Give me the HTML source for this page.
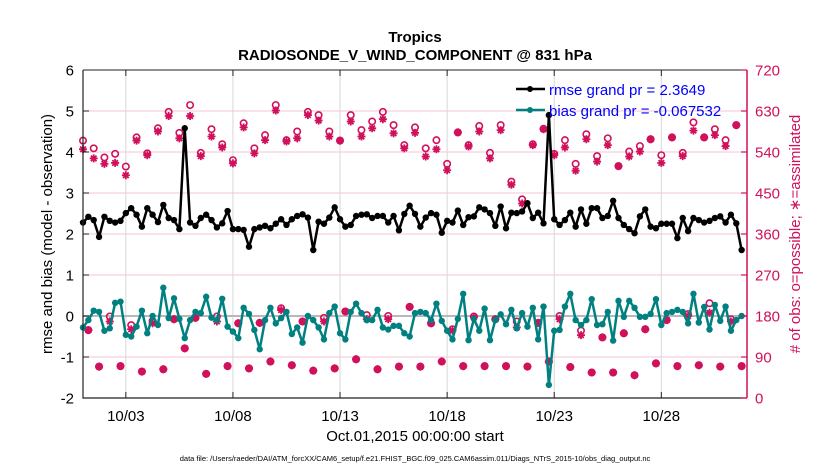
<!DOCTYPE html>
<html><head><meta charset="utf-8"><style>
html,body{margin:0;padding:0;background:#fff;}
svg{display:block;font-family:"Liberation Sans",Arial,sans-serif;}
</style></head><body>
<svg id="chart" width="830" height="470" viewBox="0 0 830 470">
<text x="415" y="42" text-anchor="middle" font-size="15" font-weight="bold">Tropics</text>
<text x="415" y="60" text-anchor="middle" font-size="15" font-weight="bold">RADIOSONDE_V_WIND_COMPONENT @ 831 hPa</text>
<g id="grid"></g>
<g id="marks"></g>
<g id="axes"></g>
<text transform="translate(52,234) rotate(-90)" text-anchor="middle" font-size="15">rmse and bias (model - observation)</text>
<text transform="translate(800,234) rotate(-90)" text-anchor="middle" font-size="15" fill="#d0105a"># of obs: o=possible; ∗=assimilated</text>
<text x="415" y="441" text-anchor="middle" font-size="15">Oct.01,2015 00:00:00 start</text>
<text x="415" y="461" text-anchor="middle" font-size="7.5">data file: /Users/raeder/DAI/ATM_forcXX/CAM6_setup/f.e21.FHIST_BGC.f09_025.CAM6assim.011/Diags_NTrS_2015-10/obs_diag_output.nc</text>
<g>
<line x1="516" y1="89" x2="545" y2="89" stroke="#000" stroke-width="2.5"/><circle cx="530" cy="89" r="3" fill="#000"/>
<text x="549" y="95" font-size="15" fill="#0000ff">rmse grand pr = 2.3649</text>
<line x1="516" y1="110" x2="545" y2="110" stroke="#008080" stroke-width="2.5"/><circle cx="530" cy="110" r="3" fill="#008080"/>
<text x="549" y="116" font-size="15" fill="#0000ff">bias grand pr = -0.067532</text>
</g>
</svg>
<script>
const rmse=[2.28,2.42,2.34,1.93,2.42,2.32,2.28,2.32,2.51,2.63,2.47,2.18,2.63,2.47,2.29,2.71,2.39,2.34,2.12,4.58,2.28,2.2,2.39,2.47,2.34,2.16,2.26,2.56,2.12,2.12,2.1,1.69,
2.12,2.16,2.2,2.14,2.25,2.36,2.22,2.36,2.44,2.48,2.4,1.61,2.3,2.25,2.4,2.65,2.36,2.18,2.22,2.44,2.47,2.48,2.39,2.44,2.44,2.28,2.44,2.09,2.49,2.69,2.49,
2.18,2.4,2.51,2.47,2.03,2.32,2.28,2.57,2.22,2.41,2.43,2.65,2.6,2.51,2.2,2.67,2.14,2.52,2.51,2.55,2.75,2.39,2.52,2.26,4.9,2.36,2.22,2.34,2.52,2.18,2.6,2.25,
2.63,2.63,2.39,2.44,2.81,2.39,2.22,2.12,2.02,2.43,2.6,2.18,2.14,2.25,2.25,2.25,1.9,2.39,2.07,2.39,2.34,2.28,2.32,2.39,2.43,2.28,2.47,2.26,1.61];
const bias=[-0.28,-0.1,0.13,0.1,-0.36,-0.3,0.32,0.35,-0.46,-0.5,-0.26,0.13,-0.42,0.0,-0.22,0.69,-0.05,0.43,-0.07,-0.54,-0.1,0.1,0.07,0.47,-0.04,-0.1,0.42,-0.26,-0.38,-0.54,0.2,0.05,
-0.34,-0.81,-0.1,0.2,-0.18,-0.05,0.1,-0.44,-0.28,-0.65,0.0,-0.1,-0.28,-0.57,0.07,0.23,-0.42,-0.57,0.1,0.3,0.07,-0.1,-0.1,0.15,-0.28,-0.33,-0.24,-0.24,-0.42,-0.5,0.07,
0.1,0.07,-0.1,0.3,-0.12,-0.36,-0.57,-0.07,0.54,-0.59,-0.07,-0.36,0.18,-0.59,-0.1,0.04,-0.2,0.15,-0.3,0.07,-0.26,0.2,-0.57,0.23,-1.68,-0.36,-0.34,0.23,0.54,-0.1,-0.22,-0.1,
0.41,-0.22,-0.2,0.1,-0.6,0.37,-0.02,0.37,0.2,-0.02,-0.02,0.05,0.41,-0.22,0.07,0.1,0.15,0.1,-0.18,0.54,-0.16,0.22,-0.33,0.27,-0.12,0.23,-0.36,-0.1,0.0];
const nUsed=[546,149,526,69,514,168,516,70,489,151,565,58,533,164,585,63,619,173,570,109,619,176,531,53,574,168,550,70,515,164,594,65,
537,165,566,80,631,193,563,72,570,168,621,60,609,168,574,65,565,190,607,85,574,173,592,63,612,173,581,69,548,200,582,69,
530,164,546,80,500,148,583,70,552,177,585,70,526,173,588,70,468,155,427,69,555,165,590,80,533,173,550,68,499,138,568,56,
519,133,555,56,509,142,530,50,541,151,568,76,516,171,572,70,531,180,587,72,572,187,577,69,553,168,599,70];
const nPoss=[565,149,548,69,528,179,536,70,508,160,572,58,537,169,592,63,628,173,582,109,643,176,538,53,590,179,557,70,522,164,603,65,
548,165,577,80,643,197,566,72,585,168,628,60,621,176,585,65,565,190,621,85,588,182,607,63,628,180,599,69,555,200,594,69,
548,164,566,80,514,151,583,70,555,179,597,70,538,173,599,70,475,168,436,69,557,165,591,80,536,180,566,68,514,148,579,56,
531,133,570,56,509,142,541,50,553,151,568,76,533,171,572,70,538,184,605,72,572,208,590,69,566,173,599,70];
const xTickDays=[2,7,12,17,22,27];
const xTickLabels=['10/03','10/08','10/13','10/18','10/23','10/28'];
const yTicks=[-2,-1,0,1,2,3,4,5,6];
const y2Ticks=[0,90,180,270,360,450,540,630,720];
const stepDays=0.25;

const L=83,R=747,T=70,B=398;
const X0=0,X1=31;
const xs=d=>L+(d-X0)/(X1-X0)*(R-L);
const ys=v=>B-(v+2)/8*(B-T);
const y2s=c=>B-c/720*(B-T);
const NS='http://www.w3.org/2000/svg';
const CR='#d0105a';
function mk(tag,attrs,parent){const e=document.createElementNS(NS,tag);for(const k in attrs)e.setAttribute(k,attrs[k]);parent.appendChild(e);return e;}
const grid=document.getElementById('grid'),marks=document.getElementById('marks'),axes=document.getElementById('axes');

y2Ticks.forEach(c=>{const g=mk('line',{x1:L,x2:R,y1:y2s(c),y2:y2s(c),stroke:'#f3c6d6','stroke-width':1},grid);

});
xTickDays.forEach(d=>{const g=mk('line',{x1:xs(d),x2:xs(d),y1:T,y2:B,stroke:'#d8d8d8','stroke-width':1},grid);

});
const zl=mk('line',{x1:L,x2:R,y1:ys(0),y2:ys(0),stroke:'#b8b8b8','stroke-width':2},grid);



// obs counts
nPoss.forEach((c,i)=>{const e=mk('circle',{cx:xs(i*stepDays),cy:y2s(c),r:3.2,fill:'none',stroke:CR,'stroke-width':1.6},marks);

});
nUsed.forEach((c,i)=>{const x=xs(i*stepDays),y=y2s(c),r=4;
const d=`M${x-r},${y}H${x+r}M${x},${y-r}V${y+r}M${x-r*0.7},${y-r*0.7}L${x+r*0.7},${y+r*0.7}M${x-r*0.7},${y+r*0.7}L${x+r*0.7},${y-r*0.7}`;
const e=mk('path',{d:d,stroke:CR,'stroke-width':1.8,fill:'none'},marks);

});

function series(vals,color,name){
  const pts=vals.map((v,i)=>xs(i*stepDays).toFixed(1)+','+ys(v).toFixed(1)).join(' ');
  const pl=mk('polyline',{points:pts,fill:'none',stroke:color,'stroke-width':2.5,'stroke-linejoin':'round'},marks);
  
  
  vals.forEach((v,i)=>{const c=mk('circle',{cx:xs(i*stepDays),cy:ys(v),r:3.2,fill:color},marks);
  
  });
}
series(bias,'#008080','bias');
series(rmse,'#000000','rmse');

// axes
const f=mk('path',{d:`M${L},${T}V${B}H${R}`,stroke:'#222','stroke-width':1.2,fill:'none'},axes);


const ra=mk('line',{x1:R,x2:R,y1:T,y2:B,stroke:CR,'stroke-width':1.5},axes);


const tl=mk('line',{x1:L,x2:R,y1:T,y2:T,stroke:'#222','stroke-width':1},axes);


yTicks.forEach(v=>{const y=ys(v);mk('line',{x1:L,x2:L+6,y1:y,y2:y,stroke:'#222'},axes);
const t=mk('text',{x:L-9,y:y+5.5,'text-anchor':'end','font-size':15},axes);t.textContent=v;

});
y2Ticks.forEach(c=>{const y=y2s(c);mk('line',{x1:R-6,x2:R,y1:y,y2:y,stroke:CR,'stroke-width':1.2},axes);
const t=mk('text',{x:R+8,y:y+5.5,'font-size':15,fill:CR},axes);t.textContent=c;

});
xTickDays.forEach((d,i)=>{const x=xs(d);mk('line',{x1:x,x2:x,y1:B,y2:B-6,stroke:'#222'},axes);mk('line',{x1:x,x2:x,y1:T,y2:T+6,stroke:'#222'},axes);
const t=mk('text',{x:x,y:B+23,'text-anchor':'middle','font-size':15},axes);t.textContent=xTickLabels[i];

});
</script>
</body></html>
